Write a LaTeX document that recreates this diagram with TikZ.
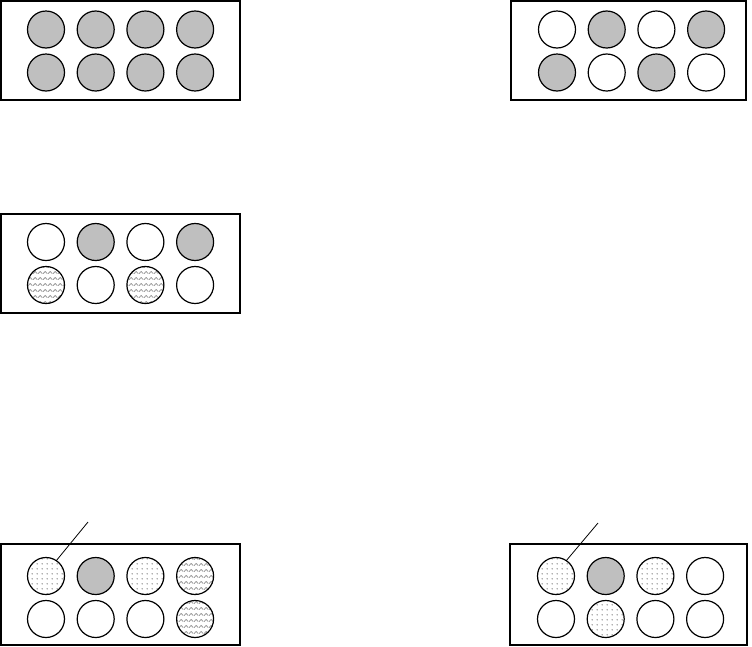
\documentclass[tikz,border=0pt]{standalone}
\usetikzlibrary{patterns}

% gray waves and sparse dots for the wells
\pgfdeclarepatternformonly{waves}{\pgfpointorigin}{\pgfpoint{4.6pt}{5.5pt}}{\pgfpoint{4.6pt}{5.5pt}}{
  \pgfsetlinewidth{0.9pt}
  \pgfsetroundjoin
  \pgfpathmoveto{\pgfpoint{0pt}{1.4pt}}
  \pgfpathlineto{\pgfpoint{2.3pt}{3.8pt}}
  \pgfpathlineto{\pgfpoint{4.6pt}{1.4pt}}
  \pgfusepath{stroke}
}
\pgfdeclarepatternformonly{specks}{\pgfpointorigin}{\pgfpoint{5pt}{4.6pt}}{\pgfpoint{5pt}{4.6pt}}{
  \pgfpathcircle{\pgfpoint{2.5pt}{2.3pt}}{0.6pt}
  \pgfusepath{fill}
}

\begin{document}
\begin{tikzpicture}[
  x=1pt, y=-1pt,
  tray/.style={draw,line width=1.5pt,inner sep=0pt},
  well/.style={draw,circle,line width=1.2pt,minimum size=37pt,inner sep=0pt},
  full/.style={well,fill=black!25},
  none/.style={well,fill=white},
  wavy/.style={well,pattern=waves,pattern color=black!40},
  speck/.style={well,pattern=specks,pattern color=black!85},
  tag/.style={draw,line width=0.8pt}
]
  \useasboundingbox (0,0) rectangle (752,646);

  % trays
  \node[tray,minimum width=239pt,minimum height=99pt] (ta) at (120.5,50.5) {};
  \node[tray,minimum width=235pt,minimum height=99pt] (tb) at (628.5,50.5) {};
  \node[tray,minimum width=239pt,minimum height=99pt] (tc) at (120.5,263.5) {};
  \node[tray,minimum width=239pt,minimum height=101pt] (td) at (120.5,594.5) {};
  \node[tray,minimum width=237pt,minimum height=101pt] (te) at (628.5,594.5) {};

  % wells, four per row, two rows per tray
  \foreach \s [count=\i from 0] in {full,full,full,full,full,full,full,full} {
    \pgfmathtruncatemacro\c{mod(\i,4)}
    \pgfmathtruncatemacro\r{div(\i,4)}
    \node[\s] (a\i) at (46+49.7*\c,29.5+43*\r) {};
  }
  \foreach \s [count=\i from 0] in {none,full,none,full,full,none,full,none} {
    \pgfmathtruncatemacro\c{mod(\i,4)}
    \pgfmathtruncatemacro\r{div(\i,4)}
    \node[\s] (b\i) at (557+49.7*\c,29.5+43*\r) {};
  }
  \foreach \s [count=\i from 0] in {none,full,none,full,wavy,none,wavy,none} {
    \pgfmathtruncatemacro\c{mod(\i,4)}
    \pgfmathtruncatemacro\r{div(\i,4)}
    \node[\s] (c\i) at (46+49.7*\c,242+43*\r) {};
  }
  \foreach \s [count=\i from 0] in {speck,full,speck,wavy,none,none,none,wavy} {
    \pgfmathtruncatemacro\c{mod(\i,4)}
    \pgfmathtruncatemacro\r{div(\i,4)}
    \node[\s] (d\i) at (46+49.7*\c,576+43*\r) {};
  }
  \foreach \s [count=\i from 0] in {speck,full,speck,none,none,speck,none,none} {
    \pgfmathtruncatemacro\c{mod(\i,4)}
    \pgfmathtruncatemacro\r{div(\i,4)}
    \node[\s] (e\i) at (556+49.7*\c,576+43*\r) {};
  }

  % pointer lines
  \coordinate (pd) at (88,522);
  \coordinate (pe) at (598,523);
  \draw[tag] (d0.56) -- (pd);
  \draw[tag] (e0.56) -- (pe);
\end{tikzpicture}
\end{document}
